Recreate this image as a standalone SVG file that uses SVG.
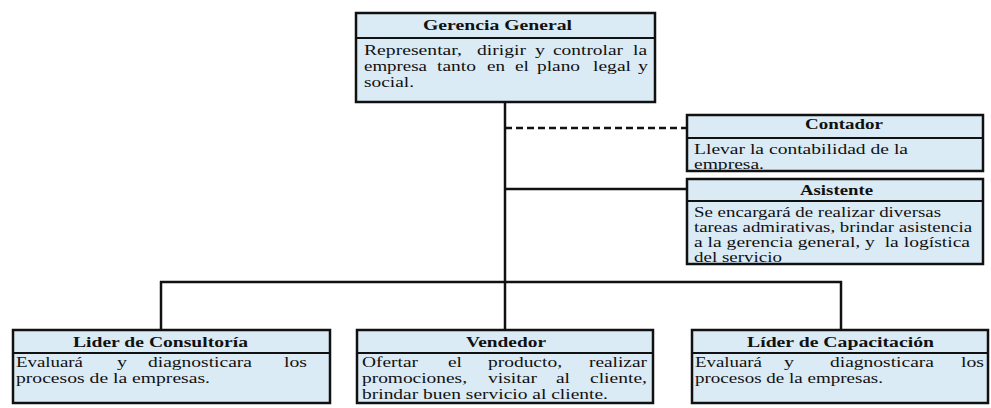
<svg xmlns="http://www.w3.org/2000/svg" width="991" height="408" viewBox="0 0 991 408">
<style>
.bg{fill:#ffffff}
.box{fill:#DBEBF5;stroke:#111;stroke-width:2.5}
.div{stroke:#111;stroke-width:2}
.h{font-family:"Liberation Serif","Times New Roman",serif;font-weight:bold;font-size:15px;fill:#111}
.b{font-family:"Liberation Serif","Times New Roman",serif;font-size:15px;fill:#111}
.conn{stroke:#111;stroke-width:2.5;fill:none}
.dash{stroke-dasharray:7 4}
</style>
<rect class="bg" x="0" y="0" width="991" height="408"/>
<g id="connectors">
<line class="conn" x1="505" y1="102" x2="505" y2="330"/>
<line class="conn dash" x1="505" y1="128" x2="687" y2="128"/>
<line class="conn" x1="505" y1="189" x2="687" y2="189"/>
<line class="conn" x1="160" y1="282" x2="842" y2="282"/>
<line class="conn" x1="161" y1="281" x2="161" y2="330"/>
<line class="conn" x1="841" y1="281" x2="841" y2="330"/>
</g>
<g id="gerencia">
<rect class="box" x="356" y="13" width="299" height="89"/>
<line class="div" x1="356" y1="38" x2="655" y2="38"/>
<text class="h" x="423" y="30" textLength="149" lengthAdjust="spacingAndGlyphs">Gerencia General</text>
<text class="b" y="55"><tspan x="364" textLength="98" lengthAdjust="spacingAndGlyphs">Representar,</tspan> <tspan x="477" textLength="49" lengthAdjust="spacingAndGlyphs">dirigir</tspan> <tspan x="535" textLength="10" lengthAdjust="spacingAndGlyphs">y</tspan> <tspan x="553" textLength="70" lengthAdjust="spacingAndGlyphs">controlar</tspan> <tspan x="633" textLength="14" lengthAdjust="spacingAndGlyphs">la</tspan></text>
<text class="b" y="71"><tspan x="364" textLength="63" lengthAdjust="spacingAndGlyphs">empresa</tspan> <tspan x="437" textLength="39" lengthAdjust="spacingAndGlyphs">tanto</tspan> <tspan x="487" textLength="18" lengthAdjust="spacingAndGlyphs">en</tspan> <tspan x="515" textLength="14" lengthAdjust="spacingAndGlyphs">el</tspan> <tspan x="537" textLength="43" lengthAdjust="spacingAndGlyphs">plano</tspan> <tspan x="593" textLength="38" lengthAdjust="spacingAndGlyphs">legal</tspan> <tspan x="638" textLength="10" lengthAdjust="spacingAndGlyphs">y</tspan></text>
<text class="b" x="364" y="87" textLength="50" lengthAdjust="spacingAndGlyphs">social.</text>
</g>
<g id="contador">
<rect class="box" x="687" y="115" width="296" height="56"/>
<line class="div" x1="687" y1="138" x2="983" y2="138"/>
<text class="h" x="805" y="129" textLength="78" lengthAdjust="spacingAndGlyphs">Contador</text>
<text class="b" x="694" y="154" textLength="214" lengthAdjust="spacingAndGlyphs">Llevar la contabilidad de la</text>
<text class="b" x="694" y="169" textLength="70" lengthAdjust="spacingAndGlyphs">empresa.</text>
</g>
<g id="asistente">
<rect class="box" x="687" y="179" width="296" height="85"/>
<line class="div" x1="687" y1="201" x2="983" y2="201"/>
<text class="h" x="800" y="195" textLength="73" lengthAdjust="spacingAndGlyphs">Asistente</text>
<text class="b" x="694" y="217" textLength="247" lengthAdjust="spacingAndGlyphs">Se encargará de realizar diversas</text>
<text class="b" x="694" y="232" textLength="278" lengthAdjust="spacingAndGlyphs">tareas admirativas, brindar asistencia</text>
<text class="b" x="694" y="247" textLength="276" lengthAdjust="spacingAndGlyphs" style="white-space:pre">a la gerencia general, y  la logística</text>
<text class="b" x="694" y="262" textLength="88" lengthAdjust="spacingAndGlyphs">del servicio</text>
</g>
<g id="lider-consultoria">
<rect class="box" x="13" y="330" width="317" height="73"/>
<line class="div" x1="13" y1="353" x2="330" y2="353"/>
<text class="h" x="73" y="347" textLength="175" lengthAdjust="spacingAndGlyphs">Lider de Consultoría</text>
<text class="b" y="367"><tspan x="16" textLength="67" lengthAdjust="spacingAndGlyphs">Evaluará</tspan> <tspan x="117" textLength="10" lengthAdjust="spacingAndGlyphs">y</tspan> <tspan x="148" textLength="104" lengthAdjust="spacingAndGlyphs">diagnosticara</tspan> <tspan x="284" textLength="23" lengthAdjust="spacingAndGlyphs">los</tspan></text>
<text class="b" x="16" y="383" textLength="194" lengthAdjust="spacingAndGlyphs">procesos de la empresas.</text>
</g>
<g id="vendedor">
<rect class="box" x="357" y="330" width="296" height="73"/>
<line class="div" x1="357" y1="353" x2="653" y2="353"/>
<text class="h" x="466" y="347" textLength="80" lengthAdjust="spacingAndGlyphs">Vendedor</text>
<text class="b" y="367"><tspan x="362" textLength="56" lengthAdjust="spacingAndGlyphs">Ofertar</tspan> <tspan x="448" textLength="14" lengthAdjust="spacingAndGlyphs">el</tspan> <tspan x="488" textLength="74" lengthAdjust="spacingAndGlyphs">producto,</tspan> <tspan x="589" textLength="58" lengthAdjust="spacingAndGlyphs">realizar</tspan></text>
<text class="b" y="383"><tspan x="362" textLength="105" lengthAdjust="spacingAndGlyphs">promociones,</tspan> <tspan x="488" textLength="49" lengthAdjust="spacingAndGlyphs">visitar</tspan> <tspan x="556" textLength="14" lengthAdjust="spacingAndGlyphs">al</tspan> <tspan x="590" textLength="57" lengthAdjust="spacingAndGlyphs">cliente,</tspan></text>
<text class="b" x="362" y="399" textLength="246" lengthAdjust="spacingAndGlyphs">brindar buen servicio al cliente.</text>
</g>
<g id="lider-capacitacion">
<rect class="box" x="692" y="330" width="296" height="73"/>
<line class="div" x1="692" y1="353" x2="988" y2="353"/>
<text class="h" x="747" y="347" textLength="187" lengthAdjust="spacingAndGlyphs">Líder de Capacitación</text>
<text class="b" y="367"><tspan x="695" textLength="67" lengthAdjust="spacingAndGlyphs">Evaluará</tspan> <tspan x="784" textLength="10" lengthAdjust="spacingAndGlyphs">y</tspan> <tspan x="830" textLength="104" lengthAdjust="spacingAndGlyphs">diagnosticara</tspan> <tspan x="961" textLength="23" lengthAdjust="spacingAndGlyphs">los</tspan></text>
<text class="b" x="695" y="383" textLength="188" lengthAdjust="spacingAndGlyphs">procesos de la empresas.</text>
</g>
</svg>
